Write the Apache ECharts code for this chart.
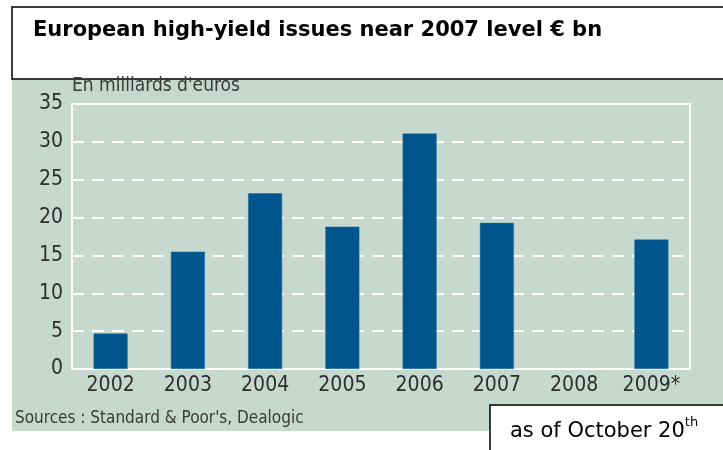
<!DOCTYPE html>
<html>
<head>
<meta charset="utf-8">
<script src="https://cdn.jsdelivr.net/npm/echarts@6/dist/echarts.min.js"></script>
<style>
html,body{margin:0;padding:0;background:#fff;}
#chart{width:723px;height:450px;}
</style>
</head>
<body>
<div id="chart"></div>
<script>
const categories = ['2002', '2003', '2004', '2005', '2006', '2007', '2008', '2009*'];
const issues = [4.7, 15.5, 23.2, 18.8, 31.1, 19.3, null, 17.1];
const yTicks = [0, 5, 10, 15, 20, 25, 30, 35];

const titleText = 'European high-yield issues near 2007 level € bn';
const unitText = "En milliards d'euros";
const sourceText = "Sources : Standard & Poor's, Dealogic";
const noteMain = 'as of October 20';
const noteSup = 'th';

const narrow = '"Liberation Sans Narrow", "DejaVu Sans Condensed", "Roboto", sans-serif';
const verdana = '"DejaVu Sans", Verdana, sans-serif';

const chart = echarts.init(document.getElementById('chart'));
chart.setOption({
  animation: false,
  backgroundColor: '#ffffff',
  graphic: [
    { type: 'rect', z: -100, shape: { x: 12, y: 79, width: 720, height: 352 }, style: { fill: '#c5d9ce' } },
    { type: 'rect', z: 10, shape: { x: 12, y: 7, width: 720, height: 72 }, style: { fill: '#ffffff', stroke: '#000000', lineWidth: 1.5 } },
    { type: 'text', z: 11, left: 33, top: 20, style: { text: titleText, font: 'bold 21px ' + verdana, fill: '#000000' } },
    { type: 'text', z: 11, left: 72, top: 77, style: { text: unitText, font: '19px ' + narrow, fill: '#3a3a3a' } },
    { type: 'text', z: 11, left: 15, top: 410, style: { text: sourceText, font: '17px ' + narrow, fill: '#3a3a3a' } },
    { type: 'rect', z: 10, shape: { x: 490, y: 405, width: 240, height: 60 }, style: { fill: '#ffffff', stroke: '#000000', lineWidth: 1.5 } },
    { type: 'text', z: 11, left: 510, top: 416, style: {
        text: '{a|' + noteMain + '}{s|' + noteSup + '}',
        rich: {
          a: { font: '21px ' + verdana, fill: '#000000', verticalAlign: 'bottom', lineHeight: 26 },
          s: { font: '13px ' + verdana, fill: '#000000', verticalAlign: 'top', lineHeight: 26 }
        }
    } }
  ],
  grid: { left: 72, right: 33, top: 104, bottom: 81, show: true, borderColor: '#ffffff', borderWidth: 2, backgroundColor: 'transparent' },
  xAxis: {
    type: 'category',
    data: categories,
    axisLine: { lineStyle: { color: '#ffffff', width: 2 } },
    axisTick: { inside: true, length: 6, lineStyle: { color: '#ffffff', width: 2 } },
    axisLabel: { color: '#2e2e2e', fontSize: 21, fontFamily: narrow, margin: 6 }
  },
  yAxis: {
    type: 'value',
    min: 0, max: 35, interval: 5,
    axisLine: { show: true, lineStyle: { color: '#ffffff', width: 2 } },
    axisTick: { show: false },
    axisLabel: { color: '#2e2e2e', fontSize: 21, fontFamily: narrow, margin: 9,
      formatter: v => yTicks.includes(v) ? String(v) : '' },
    splitLine: { show: true, lineStyle: { color: '#ffffff', width: 2, type: [12, 8] } }
  },
  series: [{
    type: 'bar',
    data: issues,
    barWidth: 34,
    itemStyle: { color: '#00558c', borderColor: '#2a6f9c', borderWidth: 0.5 }
  }]
});
</script>
</body>
</html>
